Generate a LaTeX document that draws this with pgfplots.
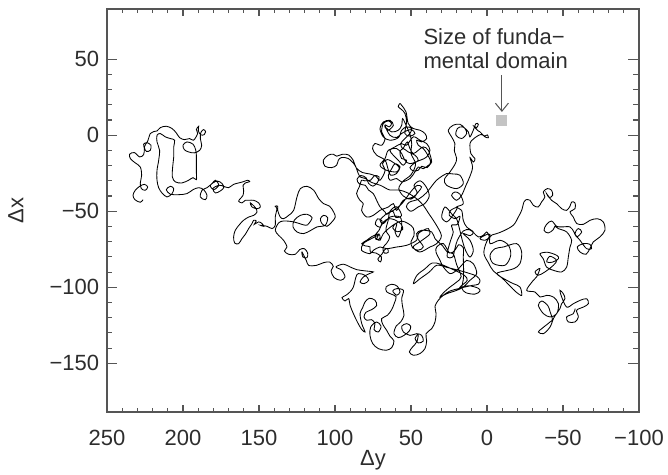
\documentclass[border=0pt]{standalone}
\usepackage{fontspec}
\setmainfont{Liberation Sans}
\usepackage{pgfplots}
\pgfplotsset{compat=1.18}
\usetikzlibrary{arrows.meta}
\definecolor{axgray}{RGB}{85,85,85}
\definecolor{txtgray}{RGB}{45,45,45}
\definecolor{sqgray}{RGB}{196,196,196}
\newcommand{\lbl}{\fontsize{22bp}{26bp}\selectfont}
\begin{document}
\begin{tikzpicture}
\begin{axis}[
  name=ax, scale only axis, width=532bp, height=403bp,
  x dir=reverse, xmin=-100, xmax=250, ymin=-182, ymax=83,
  xtick={-100,-50,0,50,100,150,200,250},
  xticklabels={−100,−50,0,50,100,150,200,250},
  ytick={-150,-100,-50,0,50},
  yticklabels={−150,−100,−50,0,50},
  minor x tick num=4, minor y tick num=4,
  tick align=inside, tick pos=both,
  axis line style={axgray, line width=1.2bp},
  xtick style={axgray, line width=1.1bp, /pgfplots/major tick length=7bp, /pgfplots/minor tick length=4bp},
  ytick style={axgray, line width=1.1bp, /pgfplots/major tick length=10.5bp, /pgfplots/minor tick length=5.5bp},
  xticklabel style={font=\lbl, text=txtgray, anchor=base, inner sep=0pt, yshift=-33.8bp},
  yticklabel style={font=\lbl, text=txtgray, anchor=east, inner sep=0pt, xshift=-7.7bp},
  clip=false,
]
\addplot[black, line width=0.85bp, smooth, tension=0.55] coordinates {
(226.3,-42.4)(228.1,-44.1)(231.6,-42.4)(232.9,-39.5)(231.4,-36.2)(228.5,-33.6)(225.4,-32.3)(223.2,-34.0)(224.8,-36.2)(227.4,-35.1)(228.1,-31.4)(227.2,-26.3)(228.1,-20.9)(231.4,-18.2)(234.6,-15.4)(235.1,-12.5)(232.0,-11.4)(228.5,-14.3)(225.9,-12.7)(225.4,-8.8)(225.9,-5.9)(223.7,-4.9)(221.1,-6.6)(221.5,-9.9)(224.1,-10.6)(225.4,-7.7)(223.2,-3.8)(221.5,1.1)(219.3,2.4)(217.1,2.8)(214.9,5.0)(211.0,5.9)(207.2,4.4)(204.4,1.5)(202.2,-1.6)(199.1,-2.9)(195.6,-2.2)(193.0,-3.3)(190.4,1.1)(191.2,3.7)(189.7,5.9)(189.9,2.8)(188.2,0.2)(186.0,0.4)(185.1,2.2)(186.4,3.7)(188.2,1.9)(188.6,-2.2)(187.7,-6.6)(189.0,-9.9)(192.5,-11.6)(196.3,-11.0)(199.1,-9.5)(200.0,-6.6)(197.4,-4.4)(193.4,-5.9)(191.7,-9.5)(191.2,-13.2)(191.2,-18.7)(191.2,-24.1)(191.2,-29.2)(193.4,-27.9)(196.3,-29.6)(200.7,-31.4)(205.0,-30.7)(207.0,-27.4)(206.8,-20.9)(206.1,-14.3)(206.1,-7.7)(205.5,-3.3)(208.3,-2.2)(211.6,-1.1)(214.9,1.1)(217.1,0.0)(217.1,-4.4)(215.4,-9.9)(216.0,-16.5)(217.1,-23.1)(217.1,-29.6)(216.0,-34.5)(213.8,-38.0)(210.5,-40.6)(207.2,-38.4)(206.1,-35.1)(208.3,-33.6)(211.0,-35.8)(208.3,-38.8)(202.9,-39.1)(197.4,-38.4)(193.4,-35.8)(189.7,-34.5)(186.4,-35.8)(184.2,-39.5)(185.3,-42.4)(188.6,-40.6)(187.5,-36.2)(184.2,-34.5)(180.9,-31.8)(178.7,-29.6)(176.5,-32.9)(179.8,-35.8)(182.0,-32.9)(177.6,-30.1)(174.3,-31.8)(173.2,-34.5)(175.4,-36.6)(178.7,-38.0)(180.3,-35.1)(176.5,-32.9)(173.2,-33.6)(170.0,-34.5)(166.7,-32.3)(163.4,-31.4)(160.1,-30.5)(157.5,-29.6)(156.1,-30.5)(159.0,-31.4)(160.5,-32.9)(160.1,-36.2)(160.5,-39.5)(162.3,-41.7)(163.4,-43.4)(161.2,-44.5)(159.0,-42.8)(156.8,-42.8)(153.5,-42.8)(150.2,-44.5)(149.1,-47.2)(151.3,-48.3)(154.6,-47.2)(155.7,-44.5)(152.4,-47.6)(151.3,-50.5)(153.5,-52.7)(156.8,-53.8)(160.1,-55.9)(162.7,-58.6)(165.6,-62.5)(166.7,-66.9)(166.0,-70.9)(163.4,-71.3)(161.2,-68.0)(159.0,-65.2)(156.8,-61.4)(154.6,-58.1)(153.5,-55.9)(151.8,-56.4)(153.1,-58.6)(150.2,-57.0)(148.0,-58.1)(146.9,-59.9)(149.1,-59.2)(144.7,-59.9)(141.4,-61.4)(139.3,-59.2)(139.3,-53.8)(138.2,-48.3)(139.3,-46.7)(137.7,-46.7)(137.7,-49.4)(136.0,-53.8)(133.8,-54.9)(130.5,-52.7)(127.2,-49.4)(125.0,-40.6)(122.8,-35.1)(118.4,-33.6)(114.0,-36.2)(110.7,-41.7)(107.5,-45.0)(103.5,-46.7)(100.9,-50.5)(99.8,-53.8)(102.0,-57.0)(105.3,-59.9)(108.6,-58.1)(109.6,-54.9)(107.5,-52.7)(104.8,-54.2)(106.4,-59.2)(111.8,-60.3)(115.8,-62.5)(120.6,-64.7)(125.0,-63.6)(127.6,-60.3)(126.8,-55.9)(122.8,-52.7)(118.4,-52.0)(115.1,-54.2)(117.3,-58.1)(119.5,-59.2)(127.2,-57.0)(133.8,-56.4)(137.1,-57.7)(139.3,-62.5)(137.1,-65.8)(133.8,-69.1)(131.6,-73.5)(133.3,-76.1)(130.5,-78.3)(126.1,-78.3)(123.2,-75.2)(120.2,-74.6)(118.0,-77.4)(118.4,-80.5)(121.1,-80.1)(121.7,-76.8)(118.9,-82.3)(117.3,-85.6)(112.3,-85.6)(107.5,-83.8)(103.5,-83.4)
(101.1,-86.2)(102.6,-89.2)(100.6,-93.6)(96.3,-95.4)(93.4,-93.2)(95.6,-88.8)(99.3,-86.6)(94.5,-84.8)(90.1,-86.6)(85.7,-88.4)(80.2,-89.2)(74.8,-89.9)(77.4,-91.0)(81.3,-93.2)(83.5,-96.5)(80.9,-97.6)(77.8,-95.4)(80.2,-92.1)(84.6,-91.0)(86.2,-93.2)(87.9,-99.8)(90.1,-103.0)(92.7,-105.2)(95.4,-106.8)(93.4,-109.0)(91.0,-107.4)(90.1,-111.8)(87.9,-117.3)(85.3,-122.8)(82.4,-127.8)(80.2,-129.4)(82.4,-123.9)(83.5,-117.3)(81.8,-113.4)(80.2,-109.6)(77.4,-107.2)(73.7,-108.5)(72.6,-112.0)(75.9,-114.7)(79.6,-116.4)(80.9,-119.5)(79.1,-121.7)(75.9,-121.3)(73.7,-123.9)(74.3,-127.8)(71.5,-129.4)(69.7,-125.6)(72.6,-122.8)(76.5,-126.1)(77.0,-131.6)(75.2,-137.0)(71.5,-140.3)(66.4,-141.4)(62.7,-139.7)(61.2,-135.3)(63.8,-132.2)(66.0,-128.3)(68.6,-124.3)(69.3,-120.6)(65.5,-118.4)(62.7,-114.7)(60.9,-110.3)(59.8,-106.3)(62.7,-104.6)(66.0,-103.0)(66.4,-99.8)(62.7,-98.0)(59.0,-99.3)(57.2,-103.0)(59.4,-105.2)(62.0,-102.4)(59.4,-100.9)(55.0,-102.0)(56.1,-107.4)(55.5,-112.9)(54.6,-118.4)(56.8,-122.8)(59.8,-125.6)(61.2,-130.5)(58.3,-133.1)(54.6,-131.6)(51.1,-128.7)(50.2,-125.6)(52.8,-123.9)(56.1,-125.6)(55.0,-129.4)(50.6,-131.6)(46.2,-130.5)(43.0,-131.6)(41.9,-135.3)(45.2,-136.6)(47.3,-133.8)(45.2,-130.9)(46.2,-135.9)(48.9,-139.2)(51.1,-142.5)(48.4,-144.7)(44.1,-143.6)(40.8,-140.3)(39.7,-135.3)(40.1,-130.5)(36.4,-127.2)(34.2,-122.8)(33.5,-117.3)(34.2,-112.5)(32.0,-108.5)(28.7,-105.2)(24.3,-102.4)(18.8,-100.9)(14.5,-99.8)(9.4,-98.7)(5.7,-98.0)(4.6,-95.4)(6.8,-92.7)(11.2,-91.0)
(18,-89)(26,-87)(33,-85.5)(38,-90)(44,-94.3)(48.4,-97.6)(46,-92)(41,-88)(36,-84)(30,-85)(22,-88.5)(15,-92)(13,-95.5)(17.8,-100)(12,-99)(6,-100.5)(4.6,-102.5)(8,-104.5)(14,-103.5)(16.5,-100.5)(15.6,-95)(15.4,-88)(15.6,-80)(15.6,-74)(18.5,-72)(21,-75.5)(24.5,-77.5)(28.7,-71.3)(33.1,-73.5)(33.5,-77)(30.9,-82.3)(28.7,-86.7)(24.3,-91.0)(19.9,-88.8)(16.7,-85.6)(13.4,-82.3)(9.0,-84.5)(6.8,-91.0)(11.2,-95.4)(15.6,-99.8)(19.9,-102.0)(26.5,-104.2)(30.9,-106.4)(28,-103)(24.3,-99.8)(19.9,-96.5)(17,-93)(20,-85)(22.2,-78)(26,-77)(29,-73)(34.2,-68)(36.4,-63.6)(43,-62.5)(46.3,-64.7)(45.2,-68.5)(41.9,-73.4)(45.2,-75.6)(49,-74)(50,-70)(48,-66)
(48.5,-61.0)(52.0,-58.0)(56.0,-56.5)(60.0,-58.0)(62.0,-61.0)(59.0,-63.5)(55.5,-62.0)(56.5,-58.5)(61.0,-55.5)(65.0,-55.0)(68.0,-57.0)(70.5,-60.5)(73.5,-58.5)(72.0,-55.0)(69.0,-56.5)(71.0,-62.5)(73.5,-65.5)(73.0,-68.5)(70.5,-68.0)(71.0,-65.0)(75.5,-66.5)(79.0,-69.0)(82.4,-71.3)(80.0,-72.8)(77.0,-73.4)(76.8,-76.7)(73.0,-77.5)(69.5,-80.0)(70.0,-83.3)(71.8,-81.5)(69.0,-78.0)(67.5,-75.5)(65.5,-74.5)(65.0,-77.0)(67.5,-77.5)(68.5,-74.0)(66.0,-71.0)(64.0,-67.0)(66.5,-62.5)(65.0,-56.0)(63.8,-50.0)(59.5,-47.0)(56.2,-52.7)(60.0,-54.0)(62.0,-50.0)(66.0,-52.0)(67.1,-50.4)(70.4,-47.1)(72.6,-42.8)(74.8,-38.4)(78.0,-36.0)(80.0,-33.0)(84.0,-32.0)(85.5,-29.0)(83.0,-26.5)(79.5,-28.0)(78.0,-31.5)(75.0,-33.5)(72.0,-31.0)(71.0,-27.5)(74.0,-26.5)(76.5,-29.5)(80.5,-30.0)(82.5,-29.6)
(84,-34)(85.8,-38.4)(83.6,-42.8)(81.4,-45.0)(82.5,-49.4)(79.2,-53.8)(74.8,-52.7)(70.4,-49.4)(64.9,-47.2)(61.6,-45.0)(59.4,-49.4)(55.1,-42.8)(48.5,-40.6)(45.2,-37.3)(43.0,-34.0)(46,-33)(50,-37)(56,-45)(61.6,-49.4)(66.0,-51.6)(70.4,-56.0)(68,-58)(63.8,-53.8)(57.2,-53.8)(56.1,-60.3)(58.3,-66.9)(60.5,-63.6)(59.4,-58.1)(63,-60)(68.2,-64.7)(70.4,-69.1)(72.6,-68.0)(71.5,-65.8)(76,-68)(81.4,-71.3)(82.5,-75.7)(77.0,-77.9)(74.8,-75.7)(70.4,-73.5)(66.0,-74.6)(59.4,-73.5)(52.9,-72.4)(46.3,-69.1)(45.2,-64.7)(41.9,-62.5)(38.6,-61.4)(37.5,-64.7)(39.7,-66.9)(44,-70)(48.5,-73.5)(44.1,-76.8)(37.5,-73.5)(33.1,-71.3)(30,-66)(34,-58)(38,-52)(42,-46)(46,-42)(52,-38)(58,-36)(64,-36)(70,-33)(76,-31)(80,-28.5)
(83.6,-27.4)(84.7,-25.2)(86.9,-19.7)(91.3,-15.3)(95.7,-14.7)(97.8,-16.4)(98.9,-19.7)(102.2,-21.3)(106.6,-20.4)(107.7,-16.4)(104.4,-13.1)(101.1,-12.5)(98.9,-13.8)(95.0,-12.5)(91.0,-13.0)(88.0,-16.5)(86.0,-21.5)(82,-24.5)(77,-25.5)(73,-27)
(70.4,-29.6)(67.1,-23.5)(68.7,-18.6)(65.6,-16.0)(61.2,-18.2)(57.7,-21.3)(59.5,-25.2)(63.4,-26.3)(65.0,-22.6)(67.1,-16.4)(72.6,-13.1)(75.3,-8.8)(73.7,-5.5)(69.3,-6.6)(67.1,-2.2)(69.3,2.2)(68.2,7.7)(64.9,9.4)(62.8,7.7)(64.3,5.5)(67.1,6.6)(63.9,0.0)(59.5,-1.5)(56.2,1.1)(52.9,2.9)(49.6,3.7)(47.4,1.1)(50.7,-0.6)(54.0,1.1)(52.9,8.8)(54.0,14.3)(56.2,16.9)(58.4,18.7)(57.3,20.8)(56.2,19.7)(53.3,15.4)(51.8,7.7)(48.5,4.4)(44.1,3.3)(40.8,1.1)(39.7,-2.2)(43.0,-4.4)(46.3,-3.3)(45.2,-6.6)(41.9,-8.8)(39.3,-12.5)(37.1,-17.5)(39.3,-21.3)(43.0,-20.4)(45.2,-23.0)(48.5,-23.5)(50.7,-21.3)(48.1,-18.6)(45.2,-16.4)(47.4,-13.1)(51.8,-11.0)(55.1,-8.8)(57.3,-11.0)(56.2,-15.3)(52.9,-16.4)(55.1,-19.7)(58.4,-16.4)(61.7,-13.1)(63.9,-9.9)(60.6,-7.7)(56.2,-5.5)(52.9,-6.6)
(48.5,-1.1)(44.1,-3.3)(39.7,-5.5)(37.5,-9.9)(39.7,-14.3)(44.1,-16.5)(50.7,-18.7)(54.0,-16.5)(56.1,-12.1)(59.4,-8.8)(64.9,-9.9)(67.1,-15.4)(70.4,-19.8)(66.0,-23.1)(59.4,-24.1)(57.2,-20.9)(60.5,-18.7)(62.7,-22.0)(64.9,-26.3)(63.8,-29.6)(59.4,-28.5)(56.1,-30.7)(50.7,-28.5)(47.4,-24.1)(45.2,-20.9)(41.9,-22.0)(38.6,-19.8)(36.4,-17.6)(38.6,-9.9)(41.9,-7.7)(45.2,-9.9)(48.5,-12.1)(50.7,-8.8)(52.4,-4.4)(54.0,-6.6)(55.5,-8.8)(56.8,-5.5)(54.0,-2.2)(50.7,1.1)(49.6,4.4)(52.9,5.5)(56.1,3.3)(58.3,-1.6)(63.8,-3.3)(68.2,-1.1)(70.4,4.4)(68.2,8.7)(63.8,9.8)(61.6,6.6)(64.9,3.3)(67.1,5.5)(62.7,2.2)(58.3,3.3)(56.1,6.6)(55.5,10.9)(53,6)(50.5,0)(49.5,-6)
(50,-12)(47,-19)(50,-26)(55,-30)(58,-35)(55,-40)(50,-42)(46,-38)(48,-33)(44,-30)(40,-34)(38,-40)(41,-45)(45,-47)(50,-50)(53,-47)(51,-44)(45,-42)(40,-38)(36,-33)(33.2,-29.6)(29,-26.5)(26.6,-25.2)(22,-25.5)(17.8,-26.3)(15.6,-31.8)(20.0,-35.1)(26.6,-32.9)(28,-29)(24.4,-24.2)(21,-19)(20.0,-15.4)(21.5,-10)(21.1,-5.5)
(23.3,-1.1)(25.5,3.3)(22.2,6.6)(17.8,7.2)(14.5,4.4)(13.4,1.1)(16.7,-2.2)(20.4,0.0)(19.5,4.4)(16.0,5.5)(12.3,2.2)(11.2,-1.1)(9.0,3.3)(7.3,7.6)(5.7,7.2)(6.8,5.0)(8.6,5.9)(6,3)(4.6,2.2)(1.3,-1.1)(-0.9,-1.6)(-0.2,0.2)(1.5,-0.5)(4,0.5)(7,-1)(9.5,-3)(11.2,-5.5)
(10.6,-12.1)(7.9,-15.4)(9.0,-17.6)(11.2,-14.7)(9.5,-20.9)(11.2,-27.0)(13.8,-32.9)(16.7,-39.5)(20.0,-42.8)(23.3,-39.5)(21.1,-37.3)(17.8,-38.8)(15.6,-45.0)(20,-47.2)(16.7,-49.4)(15.6,-56)(13.4,-60.3)(9,-63.6)(11,-66)(15.6,-64.7)(11.2,-69.1)(9.0,-75.7)(11.2,-80.1)(14,-76)(16,-70)(18,-62)(20,-55)(23,-52)(27.6,-47.2)(29.8,-53.8)(26.5,-57.0)(23.3,-53.8)(19.5,-47.6)(23.9,-49.4)(24.8,-52.7)(21.1,-54.9)(17.8,-53.3)(19.5,-58.6)(23.3,-59.2)(22.2,-63.6)(23.9,-69.1)(25.5,-74.6)(26.1,-80.1)(22.6,-80.1)(21.1,-74.6)(19.5,-69.1)(15.6,-63.0)(11.6,-62.1)(8.6,-64.3)(5.7,-66.9)(2.4,-65.8)(0.2,-63.6)(-1.5,-66.9)(1.3,-69.1)(4.6,-68.0)(1.3,-65.8)(-1.9,-65.2)
(-2.0,-71.3)(-8.6,-69.1)(-14.1,-72.4)(-15.6,-79.0)(-11.9,-85.5)(-4.2,-84.4)(-2.0,-79.0)(-5.3,-74.6)(-10.8,-73.5)(-19.5,-71.3)(-22.8,-76.8)(-21.7,-84.4)(-17.8,-87.7)(-13,-89)(-6.4,-91.0)(-13.0,-95.4)(-17.3,-97.6)(-21.7,-99.8)(-22.8,-105.3)(-19,-103)(-15,-99)(-10,-94)(-4,-89)(-1,-84)(2,-78)(1,-72)(-1,-68)(-3.5,-65.5)
(-6.3,-64.7)(-10.7,-63.0)(-17.3,-59.2)(-20.6,-53.8)(-22.8,-49.4)(-24.3,-43.9)(-25.6,-42.4)(-28.3,-42.8)(-30.5,-46.1)(-33.7,-47.2)(-35.9,-43.9)(-38.1,-40.6)(-37.0,-37.3)(-39.7,-35.1)(-42.5,-36.2)(-43.2,-39.5)(-41.0,-41.0)(-39.2,-38.4)(-42.5,-42.8)(-45.8,-45.0)(-49.1,-48.3)(-52.4,-49.4)(-54.6,-46.7)(-55.7,-43.9)(-57.9,-44.5)(-57.9,-48.3)(-54.6,-50.5)(-56.8,-53.8)(-59.0,-58.1)(-63.4,-58.6)(-67.7,-56.0)(-72.6,-54.9)(-76.5,-57.0)(-77.6,-62.5)(-74.3,-66.9)(-69.9,-70.2)(-67.7,-74.6)(-65.1,-78.3)(-61.2,-76.8)(-59.4,-73.5)(-63.4,-71.3)(-67.7,-71.7)(-68.8,-74.6)(-65.5,-74.6)(-61.2,-69.1)(-57.9,-64.7)(-60.1,-61.4)(-62.3,-63.6)(-59.0,-66.9)(-57.2,-63.6)(-54.6,-60.3)(-49.1,-60.3)(-45.8,-59.9)(-42.5,-56.4)(-39.2,-58.6)(-37.5,-62.5)(-40.3,-64.3)(-43.6,-62.1)(-44.7,-59.9)(-46.9,-61.4)(-52.4,-63.6)(-55.7,-69.1)(-54.6,-73.5)(-53.5,-80.1)(-52.4,-86.7)(-49.1,-89.9)(-43.6,-88.8)(-39.2,-86.7)(-37.0,-81.2)(-34.9,-77.9)(-40.0,-77.0)(-45.9,-79.0)(-47.0,-81.2)(-43.0,-83.5)(-39.3,-83.3)(-41.4,-79.6)(-45.8,-82.3)(-43.6,-85.6)(-38.1,-89.9)(-33.7,-92.1)(-31.6,-89.9)(-34.8,-87.7)(-32.6,-93.2)
(-30,-96)(-26.1,-102)(-31.6,-103.1)(-34.9,-106.4)(-39.3,-105.3)(-43.7,-106.4)(-47,-110.8)(-45.9,-117.3)(-41.5,-119.5)(-37.1,-117.3)(-33.8,-111.9)(-36,-109)(-40,-112)(-41.5,-116)(-43,-121)(-41.5,-122.8)(-36,-127.2)(-33.8,-129.4)(-37.1,-130.5)(-41.5,-126.1)(-44,-120)(-48,-114)(-49.1,-110.8)(-51.3,-107.5)(-50.2,-104.2)(-48,-102)(-49,-106)(-52.4,-113)(-56.8,-110.8)(-61.2,-108.6)(-65.6,-107.5)(-66.7,-110.8)(-63.4,-113)(-59,-115.1)(-60.1,-119.5)(-57.9,-122.8)(-53.5,-122.8)(-52.4,-119.5)(-56.8,-117.3)(-58,-114)
};
\addplot[only marks, mark=square*, mark size=5bp, draw=sqgray, fill=sqgray, mark options={draw=sqgray, fill=sqgray, line width=0pt}] coordinates {(-9.8,9.4)};
\draw[axgray, line width=1bp, -{Straight Barb[length=8bp,width=13bp]}] (axis cs:-9.8,39.5) -- (axis cs:-9.8,15.3);
\node[anchor=base west, inner sep=0pt, font=\lbl, text=txtgray] at (axis cs:41.9,59.5) {Size of funda−};
\node[anchor=base west, inner sep=0pt, font=\lbl, text=txtgray] at (axis cs:41.9,43.7) {mental domain};
\end{axis}
\node[anchor=base, inner sep=0pt, font=\lbl, text=txtgray] at ([yshift=-53bp]ax.south) {Δy};
\node[rotate=90, anchor=base, inner sep=0pt, font=\lbl, text=txtgray] at ([xshift=-83.7bp]ax.west) {Δx};
\pgfresetboundingbox
\path[use as bounding box] ([xshift=-107bp,yshift=-63bp]ax.south west) rectangle ([xshift=29bp,yshift=9bp]ax.north east);
\end{tikzpicture}
\end{document}
